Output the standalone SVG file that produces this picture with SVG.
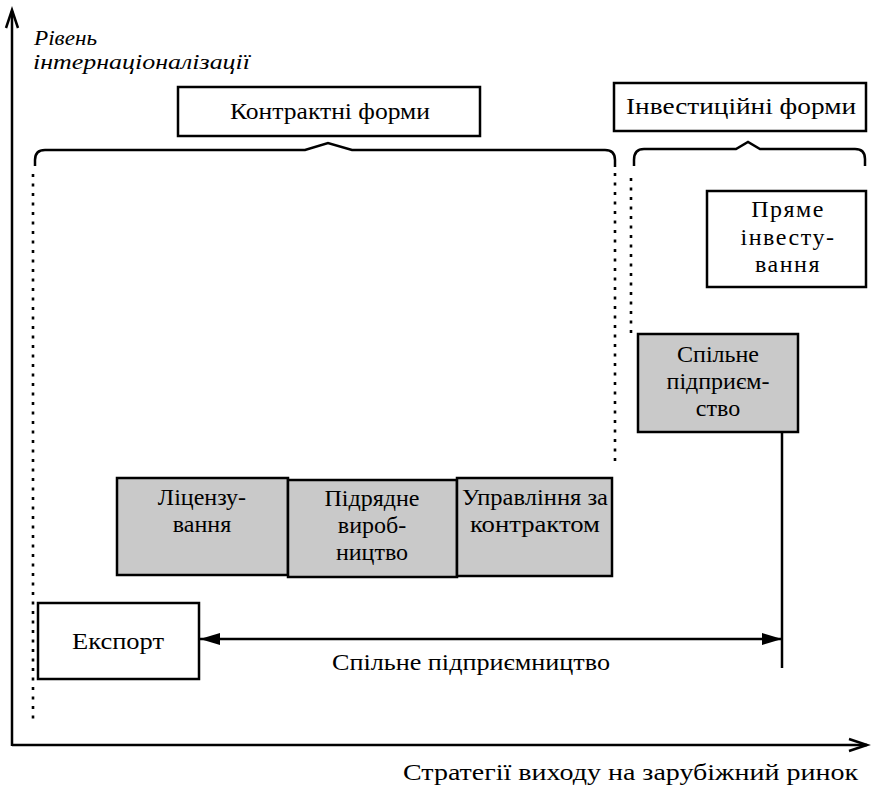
<svg xmlns="http://www.w3.org/2000/svg" width="872" height="785" viewBox="0 0 872 785">
<style>
  .t { font-family: "Liberation Serif", "Times New Roman", serif; font-size: 24px; fill: #000; }
  .it { font-family: "Liberation Serif", "Times New Roman", serif; font-style: italic; font-size: 22px; fill: #000; }
  .c { text-anchor: middle; }
  .sp { letter-spacing: 1.5px; }
  .box { fill: #fff; stroke: #000; stroke-width: 2.5; }
  .sh { fill: #c9c9c9; stroke: #000; stroke-width: 2.5; }
  .ln { fill: none; stroke: #000; stroke-width: 2.5; }
  .dot { fill: none; stroke: #000; stroke-width: 2.6; stroke-dasharray: 3 6.5; }
</style>
<defs>
  <marker id="ah" viewBox="0 0 20 12" refX="20" refY="6" markerWidth="20" markerHeight="12" markerUnits="userSpaceOnUse" orient="auto-start-reverse">
    <path d="M0,0 L20,6 L0,12 Z" fill="#000"/>
  </marker>
</defs>
<rect width="872" height="785" fill="#fff"/>

<g id="axes">
  <path class="ln" d="M12,746 L12,11"/>
  <path class="ln" d="M6,28 L12,10 L18,28"/>
  <path class="ln" d="M12,745 L867,745"/>
  <path class="ln" d="M849,739 L867,745 L849,751"/>
  <text class="it" x="34" y="45" textLength="63" lengthAdjust="spacingAndGlyphs">Рівень</text>
  <text class="it" x="33" y="69" textLength="217" lengthAdjust="spacingAndGlyphs">інтернаціоналізації</text>
  <text class="t" x="403" y="780" textLength="455" lengthAdjust="spacingAndGlyphs">Стратегії виходу на зарубіжний ринок</text>
</g>

<g id="braces">
  <path class="ln" d="M35,166 L35,160 Q35,150 45,150 L305,150 L328,143 L352,150 L605,150 Q615,150 615,160 L615,167"/>
  <path class="ln" d="M634,166 L634,160 Q634,149 644,149 L736,149 L748,142 L760,149 L855,149 Q865,149 865,159 L865,166"/>
  <path class="dot" d="M33,174 L33,720"/>
  <path class="dot" d="M615,173 L615,465"/>
  <path class="dot" d="M631,178 L631,334"/>
</g>

<g id="contract-forms">
  <rect class="box" x="178" y="87" width="302" height="49"/>
  <text class="t c" x="330" y="119" textLength="200" lengthAdjust="spacingAndGlyphs">Контрактні форми</text>
</g>

<g id="investment-forms">
  <rect class="box" x="614" y="83" width="252" height="48"/>
  <text class="t c" x="741" y="114" textLength="230" lengthAdjust="spacingAndGlyphs">Інвестиційні форми</text>
</g>

<g id="direct-investment">
  <rect class="box" x="707" y="191" width="159" height="96"/>
  <text class="t c sp" x="788" y="217">Пряме</text>
  <text class="t c sp" x="788" y="245">інвесту-</text>
  <text class="t c sp" x="788" y="272">вання</text>
</g>

<g id="joint-venture">
  <rect class="sh" x="638" y="334" width="160" height="98"/>
  <text class="t c" x="718" y="362">Спільне</text>
  <text class="t c" x="718" y="389">підприєм-</text>
  <text class="t c" x="718" y="416">ство</text>
</g>

<g id="licensing">
  <rect class="sh" x="117" y="478" width="171" height="97"/>
  <text class="t c" x="202" y="505">Ліцензу-</text>
  <text class="t c" x="202" y="532">вання</text>
</g>

<g id="contract-manufacturing">
  <rect class="sh" x="288" y="480" width="169" height="97"/>
  <text class="t c" x="372" y="506">Підрядне</text>
  <text class="t c" x="372" y="533">вироб-</text>
  <text class="t c" x="372" y="560">ництво</text>
</g>

<g id="management-contract">
  <rect class="sh" x="457" y="478" width="155" height="98"/>
  <text class="t c" x="535" y="505" textLength="146" lengthAdjust="spacingAndGlyphs">Управління за</text>
  <text class="t c" x="535" y="532" textLength="130" lengthAdjust="spacingAndGlyphs">контрактом</text>
</g>

<g id="export">
  <rect class="box" x="38" y="603" width="161" height="76"/>
  <text class="t c" x="118" y="649" textLength="92" lengthAdjust="spacingAndGlyphs">Експорт</text>
</g>

<g id="connectors">
  <path class="ln" d="M782,432 L782,668" stroke-width="2"/>
  <path class="ln" d="M200,639 L782,639" marker-start="url(#ah)" marker-end="url(#ah)"/>
  <text class="t c" x="471" y="670" textLength="278" lengthAdjust="spacingAndGlyphs">Спільне підприємництво</text>
</g>
</svg>
